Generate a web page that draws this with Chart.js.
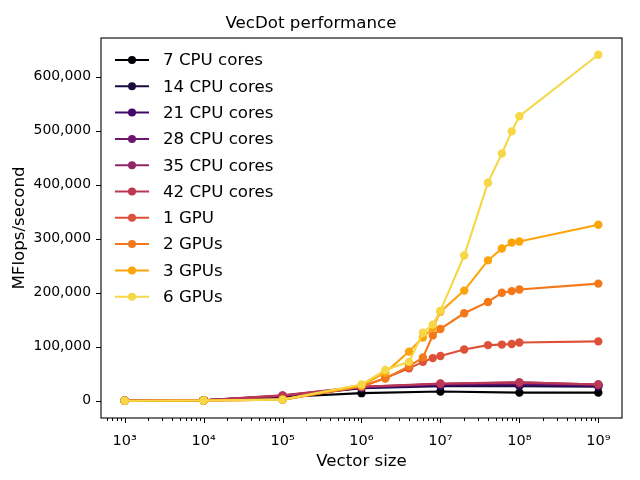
<!DOCTYPE html>
<html>
<head>
<meta charset="utf-8">
<script src="https://cdn.jsdelivr.net/npm/chart.js@4"></script>
<style>
  html, body { margin: 0; padding: 0; background: #ffffff; }
  #c { display: block; }
</style>
</head>
<body>
<canvas id="c" width="640" height="480"></canvas>
<script>
// ---------- data ----------
const cpuSizes = [1e3, 1e4, 1e5, 1e6, 1e7, 1e8, 1e9];
const gpuSizes = [1e3, 1e4, 1e5, 1e6, 2e6, 4e6, 6e6, 8e6, 1e7, 2e7, 4e7, 6e7, 8e7, 1e8, 1e9];

const cpu7  = [0, 1000, 7000, 14000, 17000, 15000, 15000];
const cpu14 = [0, 1000, 8000, 23000, 27000, 27000, 26000];
const cpu21 = [0, 1000, 8500, 24000, 29000, 30000, 28000];
const cpu28 = [0, 1000, 9000, 25000, 31000, 32000, 29000];
const cpu35 = [0, 1000, 9500, 26000, 31000, 34000, 30000];
const cpu42 = [0, 1000, 10000, 26000, 32000, 34000, 30000];

const gpu1 = [0, 500, 2000, 26000, 42000, 60000, 72000, 79000, 83000, 95000, 103000, 104000, 105000, 108000, 110000];
const gpu2 = [0, 500, 2000, 27000, 41000, 64000, 80000, 121000, 133000, 162000, 183000, 200000, 203000, 206000, 217000];
const gpu3 = [0, 500, 2000, 28000, 52000, 91000, 117000, 135000, 165000, 204000, 260000, 282000, 293000, 295000, 326000];
const gpu6 = [0, 500, 2000, 30000, 57000, 72000, 126000, 141000, 167000, 269000, 404000, 458000, 499000, 527000, 641000];

const seriesLabels = ['7 CPU cores', '14 CPU cores', '21 CPU cores', '28 CPU cores', '35 CPU cores',
                      '42 CPU cores', '1 GPU', '2 GPUs', '3 GPUs', '6 GPUs'];
const seriesColors = ['#000004', '#1b0c41', '#420a68', '#6a176e', '#932667',
                      '#bc3754', '#dd513a', '#f37819', '#fca50a', '#f6d746'];

const xMajorTicks = [1e3, 1e4, 1e5, 1e6, 1e7, 1e8, 1e9];
const xTickLabels = ['10³', '10⁴', '10⁵', '10⁶', '10⁷', '10⁸', '10⁹'];
const yTicks = [0, 100000, 200000, 300000, 400000, 500000, 600000];

// ---------- build ----------
const FONT = 'DejaVu Sans';
const seriesValues = [cpu7, cpu14, cpu21, cpu28, cpu35, cpu42, gpu1, gpu2, gpu3, gpu6];
const datasets = seriesValues.map((vals, i) => {
  const xs = i < 6 ? cpuSizes : gpuSizes;
  return {
    label: seriesLabels[i],
    data: vals.map((v, k) => ({ x: xs[k], y: v })),
    borderColor: seriesColors[i],
    backgroundColor: seriesColors[i],
    borderWidth: 2.1,
    pointRadius: 4.2,
    pointBorderWidth: 0,
    pointHoverRadius: 4.2,
    tension: 0,
    fill: false,
    order: seriesValues.length - i
  };
});

const frameAndTicks = {
  id: 'frameAndTicks',
  afterDatasetsDraw(chart) {
    const ctx = chart.ctx;
    const a = chart.chartArea;
    const xs = chart.scales.x, ys = chart.scales.y;
    ctx.save();
    ctx.strokeStyle = '#000000';
    ctx.lineWidth = 1.1;
    ctx.strokeRect(a.left, a.top, a.right - a.left, a.bottom - a.top);
    ctx.lineWidth = 1;
    for (let e = 2; e <= 9; e++) {
      for (let m = 1; m <= 9; m++) {
        const v = m * Math.pow(10, e);
        if (v < xs.min || v > xs.max) continue;
        const px = Math.round(xs.getPixelForValue(v)) + 0.5;
        const len = m === 1 ? 5 : 3;
        ctx.beginPath();
        ctx.moveTo(px, a.bottom);
        ctx.lineTo(px, a.bottom + len);
        ctx.stroke();
      }
    }
    yTicks.forEach(v => {
      const py = Math.round(ys.getPixelForValue(v)) + 0.5;
      ctx.beginPath();
      ctx.moveTo(a.left, py);
      ctx.lineTo(a.left - 5, py);
      ctx.stroke();
    });
    ctx.restore();
  }
};

const legendPlugin = {
  id: 'customLegend',
  afterDatasetsDraw(chart) {
    const ctx = chart.ctx;
    const a = chart.chartArea;
    ctx.save();
    ctx.font = '16.67px "' + FONT + '"';
    ctx.textBaseline = 'middle';
    ctx.textAlign = 'left';
    const x0 = a.left + 14, x1 = a.left + 48, xm = (x0 + x1) / 2, xt = a.left + 62;
    seriesLabels.forEach((lab, i) => {
      const y = 60 + i * 26.3;
      ctx.strokeStyle = seriesColors[i];
      ctx.fillStyle = seriesColors[i];
      ctx.lineWidth = 2;
      ctx.beginPath();
      ctx.moveTo(x0, y);
      ctx.lineTo(x1, y);
      ctx.stroke();
      ctx.beginPath();
      ctx.arc(xm, y, 4, 0, Math.PI * 2);
      ctx.fill();
      ctx.fillStyle = '#000000';
      ctx.fillText(lab, xt, y + 1);
    });
    ctx.restore();
  }
};

new Chart(document.getElementById('c'), {
  type: 'line',
  data: { datasets },
  options: {
    responsive: false,
    devicePixelRatio: 1,
    animation: false,
    events: [],
    layout: { padding: { left: 0, right: 18, top: 0, bottom: 0 } },
    plugins: {
      legend: { display: false },
      tooltip: { enabled: false },
      title: {
        display: true,
        text: 'VecDot performance',
        color: '#000000',
        font: { family: FONT, size: 16.67, weight: 'normal' },
        padding: { top: 14, bottom: 4 }
      }
    },
    scales: {
      x: {
        type: 'logarithmic',
        min: Math.pow(10, 2.7),
        max: Math.pow(10, 9.3),
        grid: { display: false, drawTicks: false },
        border: { display: false },
        afterBuildTicks(scale) { scale.ticks = xMajorTicks.map(v => ({ value: v })); },
        afterFit(scale) { scale.height = 62; },
        ticks: {
          autoSkip: false,
          maxRotation: 0,
          padding: 15,
          color: '#000000',
          font: { family: FONT, size: 14.5 },
          callback: (v, i) => xTickLabels[i]
        },
        title: {
          display: true,
          text: 'Vector size',
          color: '#000000',
          font: { family: FONT, size: 16.67 },
          padding: { top: 0, bottom: 8 }
        }
      },
      y: {
        type: 'linear',
        min: -32000,
        max: 672000,
        grid: { display: false, drawTicks: false },
        border: { display: false },
        afterBuildTicks(scale) { scale.ticks = yTicks.map(v => ({ value: v })); },
        afterFit(scale) { scale.width = 101; },
        ticks: {
          autoSkip: false,
          padding: 10,
          color: '#000000',
          font: { family: FONT, size: 13.9 },
          callback: v => v.toLocaleString('en-US')
        },
        title: {
          display: true,
          text: 'MFlops/second',
          color: '#000000',
          font: { family: FONT, size: 16.67 },
          padding: { top: 10, bottom: 0 }
        }
      }
    }
  },
  plugins: [frameAndTicks, legendPlugin]
});
</script>
</body>
</html>
